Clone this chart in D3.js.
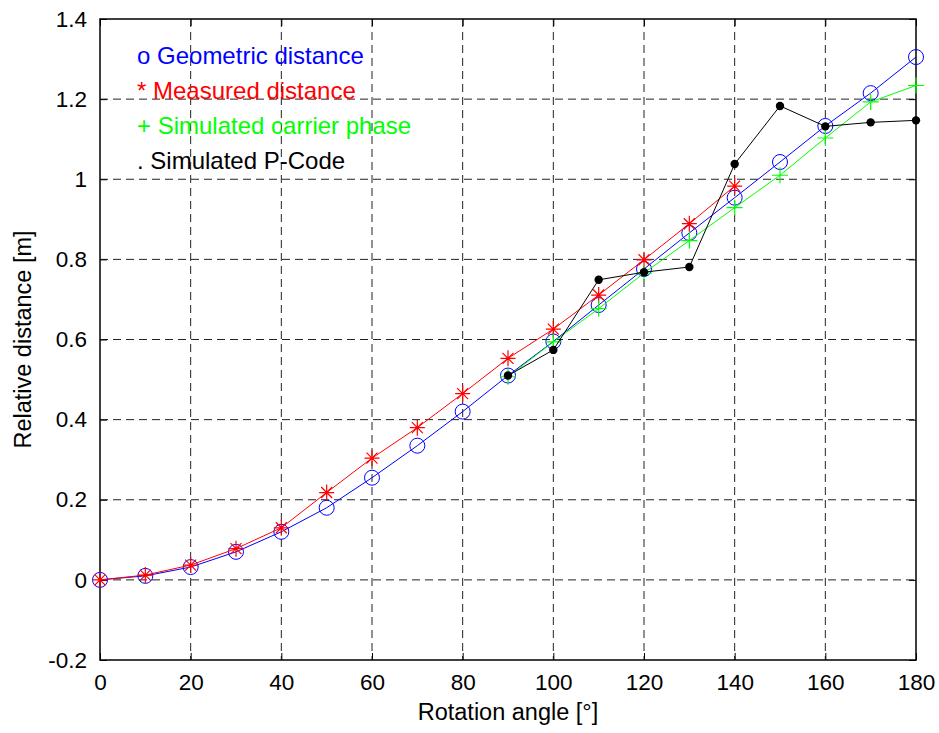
<!DOCTYPE html>
<html>
<head>
<meta charset="utf-8">
<script src="https://cdn.jsdelivr.net/npm/d3@7"></script>
<style>
  body { margin:0; background:#fff; }
  text { font-family: "Liberation Sans", Arial, sans-serif; }
</style>
</head>
<body>
<svg width="939" height="733"></svg>
<script>
// data
var angles = [0,10,20,30,40,50,60,70,80,90,100,110,120,130,140,150,160,170,180];
var geometric = [0,0.01,0.032,0.07,0.12,0.18,0.255,0.335,0.42,0.51,0.595,0.686,0.776,0.866,0.954,1.043,1.133,1.215,1.305];
var measuredAngles = [0,10,20,30,40,50,60,70,80,90,100,110,120,130,140];
var measured = [0,0.012,0.037,0.078,0.13,0.218,0.304,0.38,0.465,0.553,0.626,0.711,0.799,0.889,0.983];
var simAngles = [90,100,110,120,130,140,150,160,170,180];
var carrier = [0.507,0.594,0.677,0.766,0.847,0.929,1.01,1.103,1.193,1.234];
var pcode = [0.51,0.574,0.749,0.768,0.781,1.038,1.183,1.132,1.142,1.147];
var xTicks = [0,20,40,60,80,100,120,140,160,180];
var yTicks = [-0.2,0,0.2,0.4,0.6,0.8,1,1.2,1.4];
var legendItems = ["o Geometric distance","* Measured distance","+ Simulated carrier phase",". Simulated P-Code"];
var legendColors = ["#0000ff","#ff0000","#00ff00","#000000"];

var svg = d3.select("svg");
var pLeft = 100, pRight = 916, pTop = 19, pBottom = 660;

var x = d3.scaleLinear().domain([0,180]).range([pLeft,pRight]);
var y = d3.scaleLinear().domain([-0.2,1.4]).range([pBottom,pTop]);

// grid
svg.append("g").selectAll("line").data(xTicks.slice(1,-1)).enter().append("line")
	.attr("x1",function(d){return x(d);}).attr("x2",function(d){return x(d);})
	.attr("y1",pTop).attr("y2",pBottom)
	.style("stroke","#222").style("stroke-width",1).style("stroke-dasharray","8,5");
svg.append("g").selectAll("line").data(yTicks.slice(1,-1)).enter().append("line")
	.attr("y1",function(d){return y(d);}).attr("y2",function(d){return y(d);})
	.attr("x1",pLeft).attr("x2",pRight)
	.style("stroke","#222").style("stroke-width",1).style("stroke-dasharray","8,5");

// axes (inward ticks on all sides)
var fmtY = function(d){ return String(+d.toFixed(1)); };
var ax = svg.append("g").attr("transform","translate(0,"+pBottom+")")
	.call(d3.axisBottom(x).tickValues(xTicks).tickSizeInner(-7).tickSizeOuter(0).tickPadding(14));
var ay = svg.append("g").attr("transform","translate("+pLeft+",0)")
	.call(d3.axisLeft(y).tickValues(yTicks).tickFormat(fmtY).tickSizeInner(-7).tickSizeOuter(0).tickPadding(13));
svg.append("g").attr("transform","translate(0,"+pTop+")")
	.call(d3.axisTop(x).tickValues(xTicks).tickSizeInner(-7).tickSizeOuter(0).tickFormat(""));
svg.append("g").attr("transform","translate("+pRight+",0)")
	.call(d3.axisRight(y).tickValues(yTicks).tickSizeInner(-7).tickSizeOuter(0).tickFormat(""));
svg.selectAll(".domain").remove();
svg.selectAll(".tick line").style("stroke","#000");
svg.selectAll(".tick text").style("font-size","22.5px").style("fill","#000")
	.style("font-family","'Liberation Sans', Arial, sans-serif");

svg.append("rect").attr("x",pLeft).attr("y",pTop).attr("width",pRight-pLeft).attr("height",pBottom-pTop)
	.style("fill","none").style("stroke","#000").style("stroke-width",1.5);

// labels
svg.append("text").attr("x",(pLeft+pRight)/2).attr("y",720).attr("text-anchor","middle")
	.style("font-size","23.5px").text("Rotation angle [°]");
svg.append("text").attr("transform","translate(31,"+(pTop+pBottom)/2+") rotate(-90)").attr("text-anchor","middle")
	.style("font-size","23.5px").text("Relative distance [m]");

var line = d3.line().x(function(d){return x(d[0]);}).y(function(d){return y(d[1]);});

// geometric - blue circles
var geo = d3.zip(angles, geometric);
svg.append("path").datum(geo).attr("d",line).style("fill","none").style("stroke","#0000ff").style("stroke-width",1);
svg.append("g").selectAll("circle").data(geo).enter().append("circle")
	.attr("cx",function(d){return x(d[0]);}).attr("cy",function(d){return y(d[1]);}).attr("r",7.5)
	.style("fill","none").style("stroke","#0000ff").style("stroke-width",1);

// measured - red stars
var mea = d3.zip(measuredAngles, measured);
svg.append("path").datum(mea).attr("d",line).style("fill","none").style("stroke","#ff0000").style("stroke-width",1);
var starPath = "M-7.5,0H7.5M0,-8V8M-5.5,-5.5L5.5,5.5M-5.5,5.5L5.5,-5.5";
svg.append("g").selectAll("path").data(mea).enter().append("path")
	.attr("transform",function(d){return "translate("+x(d[0])+","+y(d[1])+")";})
	.attr("d",starPath).style("stroke","#ff0000").style("stroke-width",1.2).style("fill","none");

// carrier phase - green plus
var car = d3.zip(simAngles, carrier);
svg.append("path").datum(car).attr("d",line).style("fill","none").style("stroke","#00ff00").style("stroke-width",1);
svg.append("g").selectAll("path").data(car).enter().append("path")
	.attr("transform",function(d){return "translate("+x(d[0])+","+y(d[1])+")";})
	.attr("d","M-8,0H8M0,-8V8").style("stroke","#00ff00").style("stroke-width",1.2).style("fill","none");

// P-code - black dots
var pc = d3.zip(simAngles, pcode);
svg.append("path").datum(pc).attr("d",line).style("fill","none").style("stroke","#000").style("stroke-width",1);
svg.append("g").selectAll("circle").data(pc).enter().append("circle")
	.attr("cx",function(d){return x(d[0]);}).attr("cy",function(d){return y(d[1]);}).attr("r",4.2)
	.style("fill","#000");

// legend text
svg.append("g").selectAll("text").data(legendItems).enter().append("text")
	.attr("x",137).attr("y",function(d,i){return 64+i*35;})
	.style("font-size","24px").style("fill",function(d,i){return legendColors[i];})
	.text(function(d){return d;});
</script>
</body>
</html>
